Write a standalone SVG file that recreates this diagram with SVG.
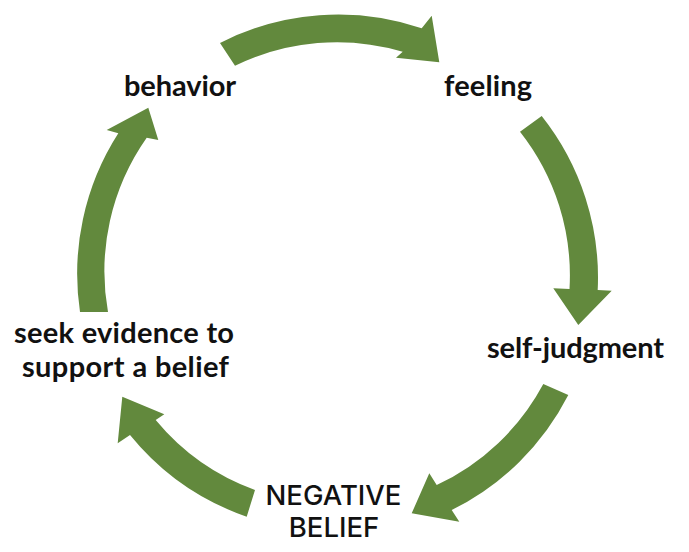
<svg xmlns="http://www.w3.org/2000/svg" width="689" height="552" viewBox="0 0 689 552">
  <style>
    .arrow { fill: #62893d; stroke: none; }
    .lbl { font-family: "Lato", "Liberation Sans", sans-serif; font-weight: 700; font-size: 29px; fill: #111111; text-anchor: middle; }
    .core { font-family: "Inter", "Liberation Sans", sans-serif; font-weight: 500; font-size: 27.5px; fill: #111111; text-anchor: middle; }
  </style>
  <rect width="689" height="552" fill="#ffffff"/>
  <g id="connectors">
    <path class="arrow" d="M220,43 A260,260 0 0 1 421.7,28.3 L431.7,15.7 L439.3,62.3 L396,57.7 L402.7,51.7 A232,232 0 0 0 235,65.7 Z"/>
    <path class="arrow" d="M541.7,116 A260,260 0 0 1 597.7,290 L611.7,290.7 L578.3,325 L553.3,288.3 L569.5,289 A232,232 0 0 0 520,131.7 Z"/>
    <path class="arrow" d="M568.3,395 A260,260 0 0 1 451.7,510 L459.3,521.7 L411.7,513.3 L429.3,473.3 L436.7,485 A232,232 0 0 0 543.3,384 Z"/>
    <path class="arrow" d="M246.7,516.7 A260,260 0 0 1 130,435 L117.7,443.3 L122.3,396.7 L164.3,414.3 L155.7,420 A232,232 0 0 0 255,490 Z"/>
    <path class="arrow" d="M80,312 A260,260 0 0 1 118.3,133.3 L106.7,130 L148.3,107.7 L158.3,140 L146.7,137.7 A232,232 0 0 0 108,312 Z"/>
  </g>
  <g id="behavior"><text class="lbl" x="180" y="96" textLength="112">behavior</text></g>
  <g id="feeling"><text class="lbl" x="488" y="96" textLength="88">feeling</text></g>
  <g id="self-judgment"><text class="lbl" x="575.5" y="358" textLength="177">self-judgment</text></g>
  <g id="negative-belief">
    <text class="core" x="333.5" y="505">NEGATIVE</text>
    <text class="core" x="334" y="537">BELIEF</text>
  </g>
  <g id="seek-evidence">
    <text class="lbl" x="124" y="343" textLength="220">seek evidence to</text>
    <text class="lbl" x="125.5" y="377" textLength="207">support a belief</text>
  </g>
</svg>
